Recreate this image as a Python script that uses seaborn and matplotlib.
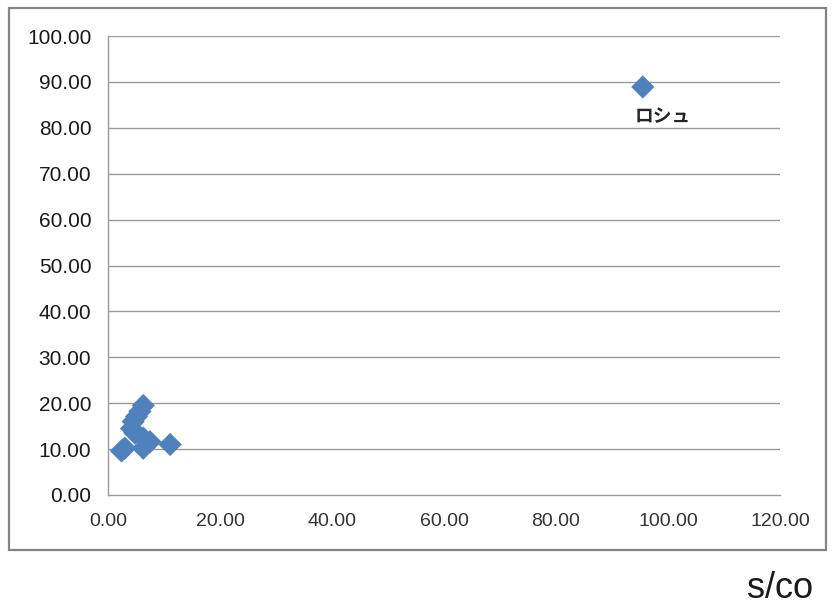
import matplotlib
matplotlib.use("Agg")
import matplotlib.pyplot as plt
import seaborn as sns
import pandas as pd
from matplotlib.patches import Rectangle

# data
sco = [6.3, 5.7, 5.1, 4.5, 4.2, 4.8, 6.3, 7.5, 6.3, 3.0, 2.4, 11.1, 95.5]
val = [19.5, 18.2, 17.1, 16.0, 14.5, 13.5, 12.4, 11.6, 10.2, 10.2, 9.6, 11.0, 88.9]
label_name = "ロシュ"
x_ticks = [0, 20, 40, 60, 80, 100, 120]
y_ticks = [0, 10, 20, 30, 40, 50, 60, 70, 80, 90, 100]
x_title = "s/co"

df = pd.DataFrame({"sco": sco, "val": val})

sns.set_style("white")
plt.rcParams['font.family'] = ['Liberation Sans', 'Noto Sans CJK JP', 'DejaVu Sans']

fig = plt.figure(figsize=(8.33, 6.07), dpi=100)
ax = fig.add_axes([108/833, 1-495/607, (780-108)/833, (495-36)/607])

for yv in y_ticks[1:]:
    ax.axhline(yv, color="#999999", lw=1.0, zorder=0)

sns.scatterplot(data=df, x="sco", y="val", marker="D", s=140,
                color="#4F81BD", edgecolor="none", ax=ax, zorder=3)

ax.set_xlim(0, 120)
ax.set_ylim(0, 100)
ax.set_xticks(x_ticks)
ax.set_yticks(y_ticks)
ax.set_xticklabels([f"{t:.2f}" for t in x_ticks], fontsize=14, color="#333333")
ax.set_yticklabels([f"{t:.2f}" for t in y_ticks], fontsize=15, color="#1a1a1a")
ax.set_xlabel("")
ax.set_ylabel("")

for side in ["top", "right"]:
    ax.spines[side].set_visible(False)
for side in ["left", "bottom"]:
    ax.spines[side].set_color("#999999")
    ax.spines[side].set_linewidth(1.0)
ax.tick_params(axis="both", which="both", direction="out", length=7,
               width=1.0, color="#999999")
ax.tick_params(axis="x", pad=6)
ax.tick_params(axis="y", pad=5)

ax.annotate(label_name, xy=(sco[-1], val[-1]), xytext=(20, -30),
            textcoords="offset pixels", ha="center", va="center",
            fontsize=13.5, fontweight="bold", family=["Noto Sans CJK JP", "DejaVu Sans"])

fig.text(780/833, 1-589/607, x_title, ha="center", va="center", fontsize=26,
         color="#1a1a1a")

fig.patches.append(Rectangle((9/833, 1-550/607), (826-9)/833, (550-8)/607,
                             transform=fig.transFigure, fill=False,
                             edgecolor="#858585", lw=1.6))

fig.savefig("out.png", dpi=100)
